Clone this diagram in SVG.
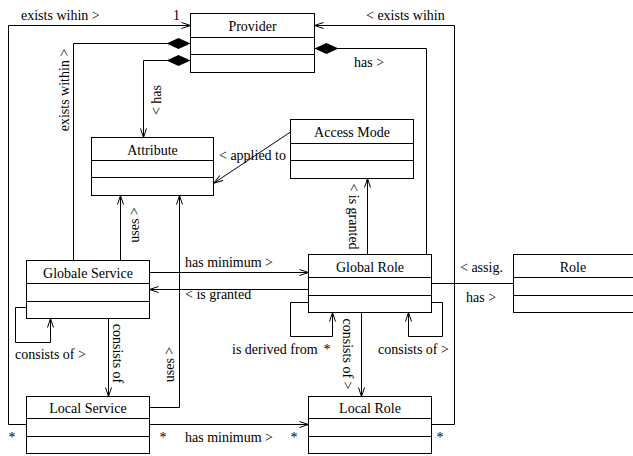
<svg xmlns="http://www.w3.org/2000/svg" width="633" height="456" viewBox="0 0 633 456">
<style>
.box rect{fill:#fff;stroke:#000;stroke-width:1}
.box line{stroke:#000;stroke-width:1}
text{font-family:"Liberation Serif","Times New Roman",serif;font-size:14px;fill:#000}
.c{text-anchor:middle}
#connectors path{fill:none;stroke:#000;stroke-width:1}
.a{marker-end:url(#arr)}
.d{marker-start:url(#dia)}
</style>
<defs>
<marker id="arr" viewBox="0 0 9 6" refX="9" refY="3" markerWidth="9" markerHeight="6" orient="auto" markerUnits="userSpaceOnUse" overflow="visible"><path d="M0,0 L9,3 L0,6" fill="none" stroke="#000" stroke-width="1"/></marker>
<marker id="dia" viewBox="0 0 24 11" refX="0" refY="5.5" markerWidth="24" markerHeight="11" orient="auto" markerUnits="userSpaceOnUse" overflow="visible"><path d="M0,5.5 L12,0 L24,5.5 L12,11 Z" fill="#000"/></marker>
</defs>
<rect width="633" height="456" fill="#fff"/>
<g id="connectors">
<path d="M26.5,424.5 H8.5 V25.5 H190.5" class="a"/>
<path d="M431.5,424.5 H454.5 V25.5 H314.5" class="a"/>
<path d="M314.5,48.5 H426.5 V254.5" class="d"/>
<path d="M190.5,43.5 H73.5 V260.5" class="d"/>
<path d="M190.5,60.5 H143.5 V137.5" class="d a"/>
<path d="M120.5,260.5 V195.5" class="a"/>
<path d="M149.5,407.5 H179.5 V195.5" class="a"/>
<path d="M290.5,132 L214,183" class="a"/>
<path d="M367.5,254.5 V178.5" class="a"/>
<path d="M149.5,272.5 H308.5" class="a"/>
<path d="M308.5,289.5 H149.5" class="a"/>
<path d="M431.5,283.5 H513.5"/>
<path d="M26.5,307.5 H15.5 V342.5 H50.5 V318.5" class="a"/>
<path d="M108.5,318.5 V396.5" class="a"/>
<path d="M308.5,302.5 H290.5 V336.5 H332.5 V312.5" class="a"/>
<path d="M431.5,302.5 H442.5 V336.5 H408.5 V312.5" class="a"/>
<path d="M361.5,312.5 V396.5" class="a"/>
<path d="M149.5,424.5 H308.5" class="a"/>
<text x="21" y="20">exists wihin &gt;</text>
<text x="173" y="20">1</text>
<text x="366" y="20">&lt; exists wihin</text>
<text x="354" y="66.5">has &gt;</text>
<text class="c" transform="translate(69,90) rotate(-90)">exists within &gt;</text>
<text class="c" transform="translate(160.5,100) rotate(-90)">&lt; has</text>
<text class="c" transform="translate(138.5,225) rotate(-90)">uses &gt;</text>
<text class="c" transform="translate(173.5,364.5) rotate(-90)">uses &gt;</text>
<text x="219" y="160">&lt; applied to</text>
<text class="c" transform="translate(349,216.5) rotate(90)">&lt; is granted</text>
<text x="185" y="267">has minimum &gt;</text>
<text x="185" y="299">&lt; is granted</text>
<text x="460" y="272">&lt; assig.</text>
<text x="466" y="301.5">has &gt;</text>
<text x="15" y="359">consists of &gt;</text>
<text class="c" transform="translate(112.5,353.5) rotate(90)">consists of</text>
<text x="232" y="354">is derived from</text>
<text x="323.5" y="354">*</text>
<text x="378" y="354">consists of &gt;</text>
<text class="c" transform="translate(342.5,354) rotate(90)">consists of &gt;</text>
<text x="185" y="442">has minimum &gt;</text>
<text x="8.5" y="442">*</text>
<text x="159.5" y="442">*</text>
<text x="290.5" y="442">*</text>
<text x="436.5" y="442">*</text>
</g>
<g id="provider" class="box">
<rect x="190.5" y="13.5" width="124" height="59"/>
<line x1="190.5" y1="37.5" x2="314.5" y2="37.5"/>
<line x1="190.5" y1="54.5" x2="314.5" y2="54.5"/>
<text class="c" x="252.5" y="31">Provider</text>
</g>
<g id="attribute" class="box">
<rect x="91.5" y="137.5" width="122" height="58"/>
<line x1="91.5" y1="160.5" x2="213.5" y2="160.5"/>
<line x1="91.5" y1="177.5" x2="213.5" y2="177.5"/>
<text class="c" x="152.5" y="155">Attribute</text>
</g>
<g id="access-mode" class="box">
<rect x="290.5" y="119.5" width="123" height="59"/>
<line x1="290.5" y1="143.5" x2="413.5" y2="143.5"/>
<line x1="290.5" y1="160.5" x2="413.5" y2="160.5"/>
<text class="c" x="352" y="137">Access Mode</text>
</g>
<g id="global-role" class="box">
<rect x="308.5" y="254.5" width="123" height="58"/>
<line x1="308.5" y1="277.5" x2="431.5" y2="277.5"/>
<line x1="308.5" y1="295.5" x2="431.5" y2="295.5"/>
<text class="c" x="370" y="272">Global Role</text>
</g>
<g id="role" class="box">
<rect x="513.5" y="254.5" width="123" height="58"/>
<line x1="513.5" y1="277.5" x2="636.5" y2="277.5"/>
<line x1="513.5" y1="295.5" x2="636.5" y2="295.5"/>
<text class="c" x="573" y="272">Role</text>
</g>
<g id="globale-service" class="box">
<rect x="26.5" y="260.5" width="123" height="58"/>
<line x1="26.5" y1="283.5" x2="149.5" y2="283.5"/>
<line x1="26.5" y1="301.5" x2="149.5" y2="301.5"/>
<text class="c" x="88" y="278">Globale Service</text>
</g>
<g id="local-service" class="box">
<rect x="26.5" y="396.5" width="123" height="57"/>
<line x1="26.5" y1="418.5" x2="149.5" y2="418.5"/>
<line x1="26.5" y1="436.5" x2="149.5" y2="436.5"/>
<text class="c" x="88" y="413">Local Service</text>
</g>
<g id="local-role" class="box">
<rect x="308.5" y="396.5" width="123" height="57"/>
<line x1="308.5" y1="418.5" x2="431.5" y2="418.5"/>
<line x1="308.5" y1="436.5" x2="431.5" y2="436.5"/>
<text class="c" x="370" y="413">Local Role</text>
</g>
</svg>
